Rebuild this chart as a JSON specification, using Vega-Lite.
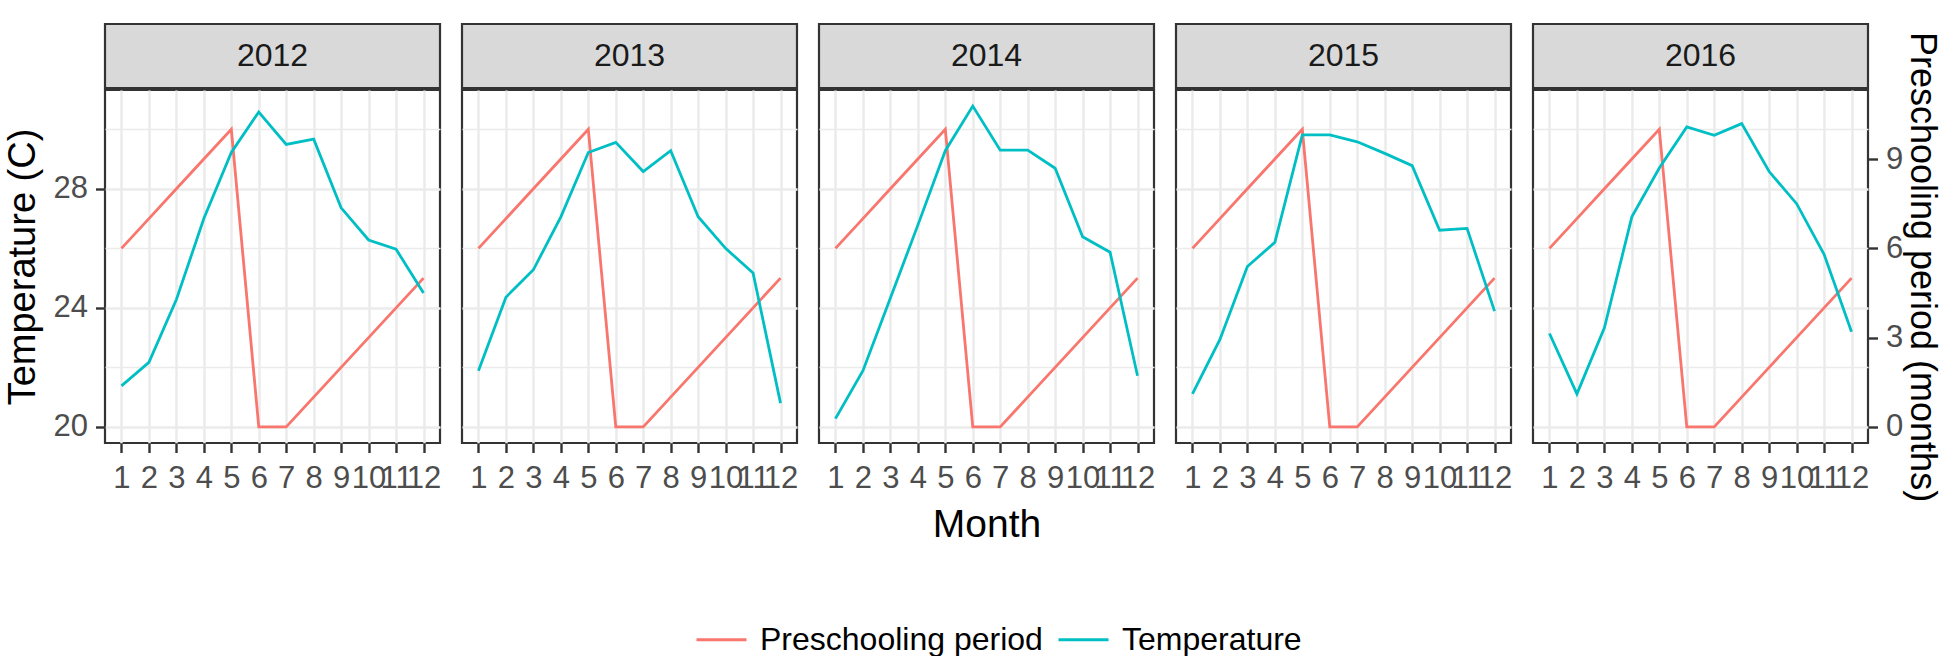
{
  "$schema": "https://vega.github.io/schema/vega-lite/v6.json",
  "padding": {"left": 3, "top": 22, "right": 4, "bottom": 0},
  "background": "white",
  "datasets": {
    "d": [
      {"year": 2012, "month": 1, "temperature": 21.38, "preschool": 6},
      {"year": 2012, "month": 2, "temperature": 22.17, "preschool": 7},
      {"year": 2012, "month": 3, "temperature": 24.28, "preschool": 8},
      {"year": 2012, "month": 4, "temperature": 27.0, "preschool": 9},
      {"year": 2012, "month": 5, "temperature": 29.22, "preschool": 10},
      {"year": 2012, "month": 6, "temperature": 30.58, "preschool": 0},
      {"year": 2012, "month": 7, "temperature": 29.49, "preschool": 0},
      {"year": 2012, "month": 8, "temperature": 29.67, "preschool": 1},
      {"year": 2012, "month": 9, "temperature": 27.36, "preschool": 2},
      {"year": 2012, "month": 10, "temperature": 26.28, "preschool": 3},
      {"year": 2012, "month": 11, "temperature": 25.97, "preschool": 4},
      {"year": 2012, "month": 12, "temperature": 24.5, "preschool": 5},
      {"year": 2013, "month": 1, "temperature": 21.89, "preschool": 6},
      {"year": 2013, "month": 2, "temperature": 24.36, "preschool": 7},
      {"year": 2013, "month": 3, "temperature": 25.28, "preschool": 8},
      {"year": 2013, "month": 4, "temperature": 27.06, "preschool": 9},
      {"year": 2013, "month": 5, "temperature": 29.22, "preschool": 10},
      {"year": 2013, "month": 6, "temperature": 29.56, "preschool": 0},
      {"year": 2013, "month": 7, "temperature": 28.58, "preschool": 0},
      {"year": 2013, "month": 8, "temperature": 29.28, "preschool": 1},
      {"year": 2013, "month": 9, "temperature": 27.06, "preschool": 2},
      {"year": 2013, "month": 10, "temperature": 26.0, "preschool": 3},
      {"year": 2013, "month": 11, "temperature": 25.17, "preschool": 4},
      {"year": 2013, "month": 12, "temperature": 20.8, "preschool": 5},
      {"year": 2014, "month": 1, "temperature": 20.28, "preschool": 6},
      {"year": 2014, "month": 2, "temperature": 21.89, "preschool": 7},
      {"year": 2014, "month": 3, "temperature": 24.33, "preschool": 8},
      {"year": 2014, "month": 4, "temperature": 26.78, "preschool": 9},
      {"year": 2014, "month": 5, "temperature": 29.28, "preschool": 10},
      {"year": 2014, "month": 6, "temperature": 30.78, "preschool": 0},
      {"year": 2014, "month": 7, "temperature": 29.3, "preschool": 0},
      {"year": 2014, "month": 8, "temperature": 29.3, "preschool": 1},
      {"year": 2014, "month": 9, "temperature": 28.69, "preschool": 2},
      {"year": 2014, "month": 10, "temperature": 26.39, "preschool": 3},
      {"year": 2014, "month": 11, "temperature": 25.87, "preschool": 4},
      {"year": 2014, "month": 12, "temperature": 21.72, "preschool": 5},
      {"year": 2015, "month": 1, "temperature": 21.11, "preschool": 6},
      {"year": 2015, "month": 2, "temperature": 22.94, "preschool": 7},
      {"year": 2015, "month": 3, "temperature": 25.39, "preschool": 8},
      {"year": 2015, "month": 4, "temperature": 26.2, "preschool": 9},
      {"year": 2015, "month": 5, "temperature": 29.81, "preschool": 10},
      {"year": 2015, "month": 6, "temperature": 29.81, "preschool": 0},
      {"year": 2015, "month": 7, "temperature": 29.58, "preschool": 0},
      {"year": 2015, "month": 8, "temperature": 29.19, "preschool": 1},
      {"year": 2015, "month": 9, "temperature": 28.78, "preschool": 2},
      {"year": 2015, "month": 10, "temperature": 26.61, "preschool": 3},
      {"year": 2015, "month": 11, "temperature": 26.67, "preschool": 4},
      {"year": 2015, "month": 12, "temperature": 23.89, "preschool": 5},
      {"year": 2016, "month": 1, "temperature": 23.14, "preschool": 6},
      {"year": 2016, "month": 2, "temperature": 21.11, "preschool": 7},
      {"year": 2016, "month": 3, "temperature": 23.33, "preschool": 8},
      {"year": 2016, "month": 4, "temperature": 27.06, "preschool": 9},
      {"year": 2016, "month": 5, "temperature": 28.7, "preschool": 10},
      {"year": 2016, "month": 6, "temperature": 30.08, "preschool": 0},
      {"year": 2016, "month": 7, "temperature": 29.8, "preschool": 0},
      {"year": 2016, "month": 8, "temperature": 30.19, "preschool": 1},
      {"year": 2016, "month": 9, "temperature": 28.58, "preschool": 2},
      {"year": 2016, "month": 10, "temperature": 27.5, "preschool": 3},
      {"year": 2016, "month": 11, "temperature": 25.8, "preschool": 4},
      {"year": 2016, "month": 12, "temperature": 23.2, "preschool": 5}
    ]
  },
  "data": {"name": "d"},
  "spacing": 18,
  "hconcat": [
    {
      "bounds": "flush", "spacing": 2,
      "vconcat": [
        {
          "width": 335, "height": 64,
          "transform": [{"filter": "datum.year == 2012 && datum.month == 1"}],
          "view": {"fill": "#D9D9D9", "stroke": "#333333", "strokeWidth": 2.2},
          "mark": {"type": "text", "fontSize": 32, "color": "#1A1A1A"},
          "encoding": {"text": {"field": "year", "type": "nominal"}}
        },
        {
          "width": 335, "height": 353,
          "view": {"fill": "white", "stroke": "#333333", "strokeWidth": 2.2},
          "transform": [{"filter": "datum.year == 2012"}],
          "encoding": {
            "x": {"field": "month", "type": "quantitative", "scale": {"domain": [0.4, 12.6], "nice": false, "zero": false},
                  "axis": {"values": [1,2,3,4,5,6,7,8,9,10,11,12], "format": "d", "title": null, "labelOverlap": false, "labelFlush": false, "labelBound": false, "grid": true}}
          },
          "layer": [
            {
              "mark": {"type": "line", "strokeWidth": 2.8},
              "encoding": {
                "y": {"field": "preschool", "type": "quantitative", "scale": {"domain": [-0.54, 11.32], "nice": false, "zero": false}, "axis": null},
                "color": {"datum": "Preschooling period", "type": "nominal",
                          "scale": {"domain": ["Preschooling period", "Temperature"], "range": ["#F8766D", "#00BFC4"]},
                          "legend": {"orient": "none", "legendX": 590, "legendY": 589, "direction": "horizontal", "title": null}}
              }
            },
            {
              "mark": {"type": "line", "strokeWidth": 2.8},
              "encoding": {
                "y": {"field": "temperature", "type": "quantitative", "scale": {"domain": [19.46, 31.32], "nice": false, "zero": false},
                      "axis": {"orient": "left", "values": [20,22,24,26,28,30], "title": "Temperature (C)", "titleFontSize": 38, "titlePadding": 10.7, "grid": true,
                               "labelExpr": "datum.value % 4 == 0 ? datum.label : ''",
                               "tickOpacity": {"condition": {"test": "datum.value % 4 == 0", "value": 1}, "value": 0},
                               "gridWidth": {"condition": {"test": "datum.value % 4 == 0", "value": 2.5}, "value": 1.3}}},
                "color": {"datum": "Temperature", "type": "nominal"}
              }
            }
          ],
          "resolve": {"scale": {"y": "independent"}}
        }
      ]
    },
    {
      "bounds": "flush", "spacing": 2,
      "vconcat": [
        {
          "width": 335, "height": 64,
          "transform": [{"filter": "datum.year == 2013 && datum.month == 1"}],
          "view": {"fill": "#D9D9D9", "stroke": "#333333", "strokeWidth": 2.2},
          "mark": {"type": "text", "fontSize": 32, "color": "#1A1A1A"},
          "encoding": {"text": {"field": "year", "type": "nominal"}}
        },
        {
          "width": 335, "height": 353,
          "view": {"fill": "white", "stroke": "#333333", "strokeWidth": 2.2},
          "transform": [{"filter": "datum.year == 2013"}],
          "encoding": {
            "x": {"field": "month", "type": "quantitative", "scale": {"domain": [0.4, 12.6], "nice": false, "zero": false},
                  "axis": {"values": [1,2,3,4,5,6,7,8,9,10,11,12], "format": "d", "title": null, "labelOverlap": false, "labelFlush": false, "labelBound": false, "grid": true}}
          },
          "layer": [
            {
              "mark": {"type": "line", "strokeWidth": 2.8},
              "encoding": {
                "y": {"field": "preschool", "type": "quantitative", "scale": {"domain": [-0.54, 11.32], "nice": false, "zero": false}, "axis": null},
                "color": {"datum": "Preschooling period", "type": "nominal"}
              }
            },
            {
              "mark": {"type": "line", "strokeWidth": 2.8},
              "encoding": {
                "y": {"field": "temperature", "type": "quantitative", "scale": {"domain": [19.46, 31.32], "nice": false, "zero": false},
                      "axis": {"orient": "left", "values": [20,22,24,26,28,30], "title": null, "labels": false, "ticks": false, "grid": true,
                               "gridWidth": {"condition": {"test": "datum.value % 4 == 0", "value": 2.5}, "value": 1.3}}},
                "color": {"datum": "Temperature", "type": "nominal"}
              }
            }
          ],
          "resolve": {"scale": {"y": "independent"}}
        }
      ]
    },
    {
      "bounds": "flush", "spacing": 2,
      "vconcat": [
        {
          "width": 335, "height": 64,
          "transform": [{"filter": "datum.year == 2014 && datum.month == 1"}],
          "view": {"fill": "#D9D9D9", "stroke": "#333333", "strokeWidth": 2.2},
          "mark": {"type": "text", "fontSize": 32, "color": "#1A1A1A"},
          "encoding": {"text": {"field": "year", "type": "nominal"}}
        },
        {
          "width": 335, "height": 353,
          "view": {"fill": "white", "stroke": "#333333", "strokeWidth": 2.2},
          "transform": [{"filter": "datum.year == 2014"}],
          "encoding": {
            "x": {"field": "month", "type": "quantitative", "scale": {"domain": [0.4, 12.6], "nice": false, "zero": false},
                  "axis": {"values": [1,2,3,4,5,6,7,8,9,10,11,12], "format": "d", "title": "Month", "titlePadding": 12, "labelOverlap": false, "labelFlush": false, "labelBound": false, "grid": true}}
          },
          "layer": [
            {
              "mark": {"type": "line", "strokeWidth": 2.8},
              "encoding": {
                "y": {"field": "preschool", "type": "quantitative", "scale": {"domain": [-0.54, 11.32], "nice": false, "zero": false}, "axis": null},
                "color": {"datum": "Preschooling period", "type": "nominal"}
              }
            },
            {
              "mark": {"type": "line", "strokeWidth": 2.8},
              "encoding": {
                "y": {"field": "temperature", "type": "quantitative", "scale": {"domain": [19.46, 31.32], "nice": false, "zero": false},
                      "axis": {"orient": "left", "values": [20,22,24,26,28,30], "title": null, "labels": false, "ticks": false, "grid": true,
                               "gridWidth": {"condition": {"test": "datum.value % 4 == 0", "value": 2.5}, "value": 1.3}}},
                "color": {"datum": "Temperature", "type": "nominal"}
              }
            }
          ],
          "resolve": {"scale": {"y": "independent"}}
        }
      ]
    },
    {
      "bounds": "flush", "spacing": 2,
      "vconcat": [
        {
          "width": 335, "height": 64,
          "transform": [{"filter": "datum.year == 2015 && datum.month == 1"}],
          "view": {"fill": "#D9D9D9", "stroke": "#333333", "strokeWidth": 2.2},
          "mark": {"type": "text", "fontSize": 32, "color": "#1A1A1A"},
          "encoding": {"text": {"field": "year", "type": "nominal"}}
        },
        {
          "width": 335, "height": 353,
          "view": {"fill": "white", "stroke": "#333333", "strokeWidth": 2.2},
          "transform": [{"filter": "datum.year == 2015"}],
          "encoding": {
            "x": {"field": "month", "type": "quantitative", "scale": {"domain": [0.4, 12.6], "nice": false, "zero": false},
                  "axis": {"values": [1,2,3,4,5,6,7,8,9,10,11,12], "format": "d", "title": null, "labelOverlap": false, "labelFlush": false, "labelBound": false, "grid": true}}
          },
          "layer": [
            {
              "mark": {"type": "line", "strokeWidth": 2.8},
              "encoding": {
                "y": {"field": "preschool", "type": "quantitative", "scale": {"domain": [-0.54, 11.32], "nice": false, "zero": false}, "axis": null},
                "color": {"datum": "Preschooling period", "type": "nominal"}
              }
            },
            {
              "mark": {"type": "line", "strokeWidth": 2.8},
              "encoding": {
                "y": {"field": "temperature", "type": "quantitative", "scale": {"domain": [19.46, 31.32], "nice": false, "zero": false},
                      "axis": {"orient": "left", "values": [20,22,24,26,28,30], "title": null, "labels": false, "ticks": false, "grid": true,
                               "gridWidth": {"condition": {"test": "datum.value % 4 == 0", "value": 2.5}, "value": 1.3}}},
                "color": {"datum": "Temperature", "type": "nominal"}
              }
            }
          ],
          "resolve": {"scale": {"y": "independent"}}
        }
      ]
    },
    {
      "bounds": "flush", "spacing": 2,
      "vconcat": [
        {
          "width": 335, "height": 64,
          "transform": [{"filter": "datum.year == 2016 && datum.month == 1"}],
          "view": {"fill": "#D9D9D9", "stroke": "#333333", "strokeWidth": 2.2},
          "mark": {"type": "text", "fontSize": 32, "color": "#1A1A1A"},
          "encoding": {"text": {"field": "year", "type": "nominal"}}
        },
        {
          "width": 335, "height": 353,
          "view": {"fill": "white", "stroke": "#333333", "strokeWidth": 2.2},
          "transform": [{"filter": "datum.year == 2016"}],
          "encoding": {
            "x": {"field": "month", "type": "quantitative", "scale": {"domain": [0.4, 12.6], "nice": false, "zero": false},
                  "axis": {"values": [1,2,3,4,5,6,7,8,9,10,11,12], "format": "d", "title": null, "labelOverlap": false, "labelFlush": false, "labelBound": false, "grid": true}}
          },
          "layer": [
            {
              "mark": {"type": "line", "strokeWidth": 2.8},
              "encoding": {
                "y": {"field": "preschool", "type": "quantitative", "scale": {"domain": [-0.54, 11.32], "nice": false, "zero": false},
                      "axis": {"orient": "right", "values": [0,3,6,9], "format": "d", "grid": false, "title": "Preschooling period (months)", "titlePadding": 0, "titleFontSize": 36}},
                "color": {"datum": "Preschooling period", "type": "nominal"}
              }
            },
            {
              "mark": {"type": "line", "strokeWidth": 2.8},
              "encoding": {
                "y": {"field": "temperature", "type": "quantitative", "scale": {"domain": [19.46, 31.32], "nice": false, "zero": false},
                      "axis": {"orient": "left", "values": [20,22,24,26,28,30], "title": null, "labels": false, "ticks": false, "grid": true,
                               "gridWidth": {"condition": {"test": "datum.value % 4 == 0", "value": 2.5}, "value": 1.3}}},
                "color": {"datum": "Temperature", "type": "nominal"}
              }
            }
          ],
          "resolve": {"scale": {"y": "independent"}}
        }
      ]
    }
  ],
  "config": {
    "font": "Liberation Sans",
    "view": {"stroke": "#333333", "strokeWidth": 2.2},
    "axis": {
      "domain": false,
      "labelFontSize": 31,
      "labelColor": "#4D4D4D",
      "labelPadding": 8,
      "titleFontSize": 39,
      "titleFontWeight": "normal",
      "titleColor": "#000000",
      "titlePadding": 10,
      "tickColor": "#333333",
      "tickWidth": 2.4,
      "tickSize": 9.5,
      "grid": true,
      "gridColor": "#EBEBEB",
      "gridWidth": 2.5
    },
    "axisX": {"labelPadding": 11},
    "legend": {
      "symbolType": "stroke",
      "symbolStrokeWidth": 3,
      "symbolSize": 2500,
      "labelFontSize": 32,
      "labelColor": "#000000",
      "labelOffset": 12,
      "columnPadding": 9,
      "labelLimit": 0
    }
  }
}
